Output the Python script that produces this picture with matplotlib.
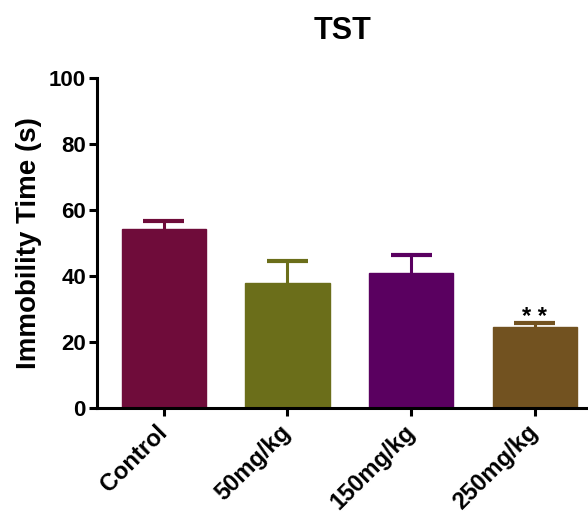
import matplotlib.pyplot as plt
import numpy as np

groups = ["Control", "50mg/kg", "150mg/kg", "250mg/kg"]
means = [54.2, 37.9, 40.9, 24.5]
sems = [2.5, 6.6, 5.5, 1.2]
colors = ["#6f0c3a", "#6b6e1a", "#5a0060", "#725220"]

plt.rcParams['font.family'] = ['Liberation Sans', 'DejaVu Sans']

fig = plt.figure(figsize=(5.88, 5.15), dpi=100)
ax = fig.add_axes([0.165, 0.2078, 0.835, 0.6407])

x = np.arange(len(groups))
tops = np.array(means) + np.array(sems)
ax.bar(x, means, width=0.68, color=colors, edgecolor=colors, zorder=2)
# upper-only error bars
ax.vlines(x, means, tops, colors=colors, linewidth=2.2, zorder=1)
ax.hlines(tops, x - 0.165, x + 0.165, colors=colors, linewidth=3, zorder=1)

ax.text(x[3], tops[3] - 1.8, "* *", ha='center', va='bottom',
        fontsize=17, fontweight='bold')

ax.set_xlim(-0.54, 3.43)
ax.set_ylim(0, 100)
ax.set_yticks([0, 20, 40, 60, 80, 100])
ax.set_xticks(x)
ax.set_xticklabels(groups, rotation=45, ha='right', va='center',
                   rotation_mode='anchor', fontsize=17, fontweight='bold')
for lab in ax.get_yticklabels():
    lab.set_fontsize(16)
    lab.set_fontweight('bold')

ax.spines['top'].set_visible(False)
ax.spines['right'].set_visible(False)
ax.spines['left'].set_linewidth(2.2)
ax.spines['bottom'].set_linewidth(2.2)
ax.tick_params(width=2.2, length=6, pad=2)
ax.tick_params(axis='x', pad=9)

ax.set_ylabel("Immobility Time (s)", fontsize=20, fontweight='bold', labelpad=5)
ax.set_title("TST", fontsize=22, fontweight='bold', pad=28)

fig.savefig("out.png", dpi=100)
